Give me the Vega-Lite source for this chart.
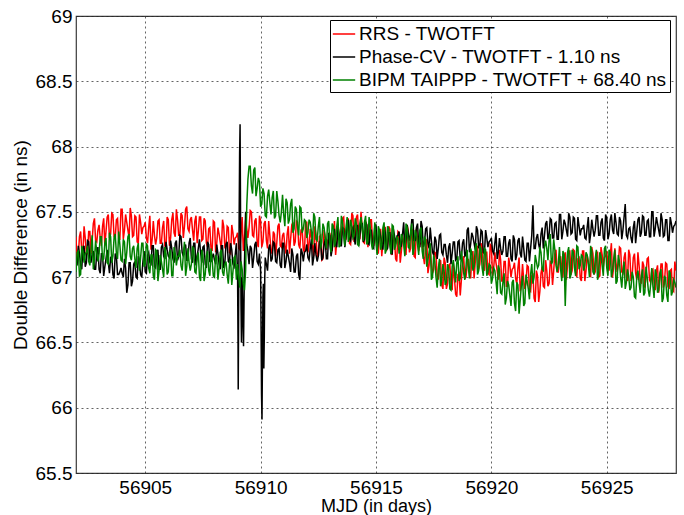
{
  "$schema": "https://vega.github.io/schema/vega-lite/v6.json",
  "autosize": "none",
  "width": 600,
  "height": 457,
  "padding": {"left": 76, "top": 16, "right": 8, "bottom": 42},
  "background": "white",
  "config": {
    "font": "Liberation Sans",
    "view": {"stroke": "#3a3a3a", "strokeWidth": 1.2},
    "axis": {
      "labelFont": "Liberation Sans", "titleFont": "Liberation Sans",
      "labelFontSize": 19, "titleFontSize": 19, "labelColor": "#000", "titleColor": "#000",
      "titleFontWeight": "normal", "domain": false, "ticks": false,
      "grid": true, "gridColor": "#222", "gridDash": [2, 3], "gridOpacity": 0.7, "gridWidth": 1
    }
  },
  "data": {"values": [
    {"t":56902.0,"r":67.31,"p":67.11,"b":67.04},{"t":56902.1,"r":67.17,"p":67.24,"b":67.20},{"t":56902.2,"r":67.35,"p":67.09,"b":67.02},{"t":56902.3,"r":67.18,"p":67.22,"b":67.20},{"t":56902.4,"r":67.30,"p":67.08,"b":67.18},
    {"t":56902.5,"r":67.18,"p":67.28,"b":67.24},{"t":56902.6,"r":67.35,"p":67.14,"b":67.09},{"t":56902.7,"r":67.28,"p":67.18,"b":67.32},{"t":56902.8,"r":67.45,"p":67.06,"b":67.14},{"t":56902.9,"r":67.27,"p":67.19,"b":67.19},
    {"t":56903.0,"r":67.40,"p":67.06,"b":67.18},{"t":56903.1,"r":67.24,"p":67.18,"b":67.31},{"t":56903.2,"r":67.45,"p":67.01,"b":67.14},{"t":56903.3,"r":67.35,"p":67.14,"b":67.30},{"t":56903.4,"r":67.48,"p":67.11,"b":67.10},
    {"t":56903.5,"r":67.33,"p":67.15,"b":67.31},{"t":56903.6,"r":67.48,"p":67.02,"b":67.16},{"t":56903.7,"r":67.30,"p":67.18,"b":67.33},{"t":56903.8,"r":67.45,"p":67.02,"b":67.14},{"t":56903.9,"r":67.29,"p":67.04,"b":67.25},
    {"t":56904.0,"r":67.52,"p":67.03,"b":67.12},{"t":56904.1,"r":67.36,"p":67.14,"b":67.27},{"t":56904.2,"r":67.42,"p":66.88,"b":67.19},{"t":56904.3,"r":67.30,"p":67.11,"b":67.33},{"t":56904.4,"r":67.47,"p":66.93,"b":67.13},
    {"t":56904.5,"r":67.32,"p":67.10,"b":67.24},{"t":56904.6,"r":67.46,"p":67.00,"b":67.07},{"t":56904.7,"r":67.26,"p":67.16,"b":67.26},{"t":56904.8,"r":67.42,"p":67.02,"b":67.15},{"t":56904.9,"r":67.38,"p":67.12,"b":67.26},
    {"t":56905.0,"r":67.42,"p":67.04,"b":67.10},{"t":56905.1,"r":67.26,"p":67.17,"b":67.24},{"t":56905.2,"r":67.47,"p":67.11,"b":67.03},{"t":56905.3,"r":67.29,"p":67.24,"b":67.17},{"t":56905.4,"r":67.32,"p":67.08,"b":66.98},
    {"t":56905.5,"r":67.30,"p":67.18,"b":67.20},{"t":56905.6,"r":67.44,"p":67.06,"b":67.05},{"t":56905.7,"r":67.26,"p":67.23,"b":67.12},{"t":56905.8,"r":67.43,"p":67.16,"b":67.00},{"t":56905.9,"r":67.22,"p":67.27,"b":67.18},
    {"t":56906.0,"r":67.44,"p":67.16,"b":67.04},{"t":56906.1,"r":67.30,"p":67.28,"b":67.20},{"t":56906.2,"r":67.49,"p":67.14,"b":67.01},{"t":56906.3,"r":67.31,"p":67.26,"b":67.18},{"t":56906.4,"r":67.44,"p":67.13,"b":67.16},
    {"t":56906.5,"r":67.32,"p":67.32,"b":67.21},{"t":56906.6,"r":67.47,"p":67.19,"b":67.05},{"t":56906.7,"r":67.39,"p":67.23,"b":67.27},{"t":56906.8,"r":67.54,"p":67.13,"b":67.08},{"t":56906.9,"r":67.35,"p":67.26,"b":67.11},
    {"t":56907.0,"r":67.46,"p":67.14,"b":67.10},{"t":56907.1,"r":67.28,"p":67.26,"b":67.22},{"t":56907.2,"r":67.47,"p":67.09,"b":67.03},{"t":56907.3,"r":67.35,"p":67.22,"b":67.19},{"t":56907.4,"r":67.46,"p":67.19,"b":66.97},
    {"t":56907.5,"r":67.29,"p":67.23,"b":67.17},{"t":56907.6,"r":67.43,"p":67.10,"b":67.02},{"t":56907.7,"r":67.23,"p":67.27,"b":67.20},{"t":56907.8,"r":67.38,"p":67.12,"b":67.01},{"t":56907.9,"r":67.20,"p":67.15,"b":67.13},
    {"t":56908.0,"r":67.42,"p":67.13,"b":67.00},{"t":56908.1,"r":67.26,"p":67.25,"b":67.15},{"t":56908.2,"r":67.33,"p":67.10,"b":67.07},{"t":56908.3,"r":67.21,"p":67.24,"b":67.21},{"t":56908.4,"r":67.39,"p":67.07,"b":67.01},
    {"t":56908.5,"r":67.24,"p":67.25,"b":67.12},{"t":56908.6,"r":67.38,"p":67.12,"b":66.95},{"t":56908.7,"r":67.18,"p":67.26,"b":67.14},{"t":56908.8,"r":67.34,"p":67.10,"b":67.04},{"t":56908.9,"r":67.30,"p":67.17,"b":67.16},
    {"t":56909.0,"r":67.34,"p":67.05,"b":67.10},
    {"t":56909.02,"p":66.55},{"t":56909.03,"p":66.14},{"t":56909.05,"p":66.85},{"t":56909.07,"p":67.45},{"t":56909.09,"p":67.95},
    {"t":56909.1,"r":67.21,"p":68.05,"b":66.92},
    {"t":56909.11,"p":68.17},{"t":56909.13,"p":67.50},{"t":56909.15,"p":66.80},{"t":56909.17,"p":66.50},{"t":56909.19,"p":66.95},
    {"t":56909.2,"r":67.46,"p":67.00,"b":67.06},
    {"t":56909.23,"p":66.70},{"t":56909.26,"p":66.47},{"t":56909.28,"p":66.80},
    {"t":56909.3,"r":67.30,"p":67.10,"b":66.90},
    {"t":56909.35,"p":67.50},
    {"t":56909.4,"r":67.37,"p":67.25,"b":67.55},
    {"t":56909.5,"r":67.38,"p":67.10,"b":67.85},{"t":56909.6,"r":67.50,"p":67.22,"b":67.70},{"t":56909.7,"r":67.31,"p":67.15,"b":67.82},{"t":56909.8,"r":67.45,"p":67.27,"b":67.62},{"t":56909.9,"r":67.23,"p":67.10,"b":67.76},
    {"t":56910.0,"r":67.43,"p":67.05,"b":67.54},
    {"t":56910.02,"p":66.60},{"t":56910.04,"p":66.10},{"t":56910.06,"p":65.91},{"t":56910.08,"p":66.40},
    {"t":56910.1,"r":67.27,"p":66.85,"b":67.68},
    {"t":56910.12,"p":66.95},{"t":56910.14,"p":66.30},{"t":56910.16,"p":66.55},{"t":56910.18,"p":67.00},
    {"t":56910.2,"r":67.43,"p":67.15,"b":67.47},{"t":56910.3,"r":67.22,"p":67.05,"b":67.62},{"t":56910.4,"r":67.32,"p":67.25,"b":67.57},
    {"t":56910.5,"r":67.18,"p":67.14,"b":67.61},{"t":56910.6,"r":67.33,"p":67.26,"b":67.45},{"t":56910.7,"r":67.26,"p":67.11,"b":67.66},{"t":56910.8,"r":67.41,"p":67.22,"b":67.47},{"t":56910.9,"r":67.23,"p":67.07,"b":67.50},
    {"t":56911.0,"r":67.34,"p":67.26,"b":67.48},{"t":56911.1,"r":67.18,"p":67.12,"b":67.60},{"t":56911.2,"r":67.39,"p":67.16,"b":67.41},{"t":56911.3,"r":67.29,"p":67.04,"b":67.56},{"t":56911.4,"r":67.42,"p":67.17,"b":67.34},
    {"t":56911.5,"r":67.27,"p":67.04,"b":67.54},{"t":56911.6,"r":67.42,"p":67.18,"b":67.38},{"t":56911.7,"r":67.22,"p":66.98,"b":67.54},{"t":56911.8,"r":67.37,"p":67.19,"b":67.34},{"t":56911.9,"r":67.19,"p":67.19,"b":67.44},
    {"t":56912.0,"r":67.42,"p":67.25,"b":67.30},{"t":56912.1,"r":67.25,"p":67.13,"b":67.44},{"t":56912.2,"r":67.30,"p":67.29,"b":67.35},{"t":56912.3,"r":67.16,"p":67.15,"b":67.49},{"t":56912.4,"r":67.32,"p":67.17,"b":67.29},
    {"t":56912.5,"r":67.16,"p":67.16,"b":67.39},{"t":56912.6,"r":67.32,"p":67.28,"b":67.22},{"t":56912.7,"r":67.14,"p":67.15,"b":67.41},{"t":56912.8,"r":67.30,"p":67.29,"b":67.30},{"t":56912.9,"r":67.28,"p":67.14,"b":67.41},
    {"t":56913.0,"r":67.34,"p":67.32,"b":67.25},{"t":56913.1,"r":67.20,"p":67.21,"b":67.41},{"t":56913.2,"r":67.43,"p":67.37,"b":67.23},{"t":56913.3,"r":67.27,"p":67.23,"b":67.39},{"t":56913.4,"r":67.32,"p":67.33,"b":67.23},
    {"t":56913.5,"r":67.32,"p":67.24,"b":67.47},{"t":56913.6,"r":67.46,"p":67.37,"b":67.32},{"t":56913.7,"r":67.29,"p":67.31,"b":67.38},{"t":56913.8,"r":67.45,"p":67.44,"b":67.27},{"t":56913.9,"r":67.25,"p":67.28,"b":67.44},
    {"t":56914.0,"r":67.47,"p":67.38,"b":67.30},{"t":56914.1,"r":67.32,"p":67.25,"b":67.45},{"t":56914.2,"r":67.48,"p":67.40,"b":67.25},{"t":56914.3,"r":67.29,"p":67.32,"b":67.41},{"t":56914.4,"r":67.39,"p":67.41,"b":67.37},
    {"t":56914.5,"r":67.26,"p":67.29,"b":67.42},{"t":56914.6,"r":67.40,"p":67.40,"b":67.25},{"t":56914.7,"r":67.31,"p":67.25,"b":67.46},{"t":56914.8,"r":67.44,"p":67.36,"b":67.26},{"t":56914.9,"r":67.24,"p":67.22,"b":67.29},
    {"t":56915.0,"r":67.34,"p":67.40,"b":67.26},{"t":56915.1,"r":67.18,"p":67.27,"b":67.39},{"t":56915.2,"r":67.37,"p":67.31,"b":67.21},{"t":56915.3,"r":67.27,"p":67.21,"b":67.38},{"t":56915.4,"r":67.38,"p":67.34,"b":67.18},
    {"t":56915.5,"r":67.23,"p":67.22,"b":67.39},{"t":56915.6,"r":67.37,"p":67.34,"b":67.24},{"t":56915.7,"r":67.17,"p":67.18,"b":67.40},{"t":56915.8,"r":67.30,"p":67.32,"b":67.21},{"t":56915.9,"r":67.12,"p":67.31,"b":67.31},
    {"t":56916.0,"r":67.34,"p":67.35,"b":67.18},{"t":56916.1,"r":67.20,"p":67.24,"b":67.33},{"t":56916.2,"r":67.27,"p":67.42,"b":67.25},{"t":56916.3,"r":67.17,"p":67.29,"b":67.41},{"t":56916.4,"r":67.35,"p":67.33,"b":67.23},
    {"t":56916.5,"r":67.22,"p":67.33,"b":67.34},{"t":56916.6,"r":67.35,"p":67.44,"b":67.17},{"t":56916.7,"r":67.15,"p":67.28,"b":67.36},{"t":56916.8,"r":67.29,"p":67.41,"b":67.25},{"t":56916.9,"r":67.25,"p":67.23,"b":67.36},
    {"t":56917.0,"r":67.28,"p":67.39,"b":67.20},{"t":56917.1,"r":67.10,"p":67.26,"b":67.31},{"t":56917.2,"r":67.29,"p":67.38,"b":67.08},{"t":56917.3,"r":67.09,"p":67.22,"b":67.19},{"t":56917.4,"r":67.10,"p":67.28,"b":66.98},
    {"t":56917.5,"r":67.06,"p":67.17,"b":67.17},{"t":56917.6,"r":67.18,"p":67.28,"b":67.00},{"t":56917.7,"r":66.99,"p":67.22,"b":67.06},{"t":56917.8,"r":67.13,"p":67.33,"b":66.93},{"t":56917.9,"r":66.91,"p":67.17,"b":67.10},
    {"t":56918.0,"r":67.11,"p":67.25,"b":66.94},{"t":56918.1,"r":66.95,"p":67.11,"b":67.10},{"t":56918.2,"r":67.10,"p":67.26,"b":66.91},{"t":56918.3,"r":66.90,"p":67.18,"b":67.08},{"t":56918.4,"r":66.99,"p":67.27,"b":67.05},
    {"t":56918.5,"r":66.85,"p":67.14,"b":67.11},{"t":56918.6,"r":67.03,"p":67.28,"b":66.97},{"t":56918.7,"r":66.98,"p":67.15,"b":67.20},{"t":56918.8,"r":67.16,"p":67.29,"b":67.03},{"t":56918.9,"r":67.00,"p":67.17,"b":67.08},
    {"t":56919.0,"r":67.14,"p":67.38,"b":67.08},{"t":56919.1,"r":66.99,"p":67.25,"b":67.22},{"t":56919.2,"r":67.20,"p":67.31,"b":67.05},{"t":56919.3,"r":67.11,"p":67.21,"b":67.22},{"t":56919.4,"r":67.24,"p":67.36,"b":67.02},
    {"t":56919.5,"r":67.10,"p":67.24,"b":67.24},{"t":56919.6,"r":67.24,"p":67.35,"b":67.07},{"t":56919.7,"r":67.05,"p":67.18,"b":67.22},{"t":56919.8,"r":67.19,"p":67.30,"b":67.01},{"t":56919.9,"r":67.02,"p":67.27,"b":67.10},
    {"t":56920.0,"r":67.24,"p":67.30,"b":66.95},{"t":56920.1,"r":67.07,"p":67.18,"b":67.07},{"t":56920.2,"r":67.11,"p":67.34,"b":66.97},{"t":56920.3,"r":66.98,"p":67.19,"b":67.09},{"t":56920.4,"r":67.13,"p":67.22,"b":66.88},
    {"t":56920.5,"r":66.97,"p":67.20,"b":66.96},{"t":56920.6,"r":67.12,"p":67.31,"b":66.79},{"t":56920.7,"r":66.93,"p":67.16,"b":66.97},{"t":56920.8,"r":67.09,"p":67.29,"b":66.86},{"t":56920.9,"r":67.06,"p":67.12,"b":66.96},
    {"t":56921.0,"r":67.11,"p":67.29,"b":66.80},{"t":56921.1,"r":66.95,"p":67.17,"b":66.96},{"t":56921.2,"r":67.15,"p":67.30,"b":66.72},{"t":56921.3,"r":66.96,"p":67.15,"b":66.94},{"t":56921.4,"r":66.98,"p":67.22,"b":66.78},
    {"t":56921.5,"r":66.96,"p":67.12,"b":67.02},{"t":56921.6,"r":67.08,"p":67.26,"b":66.91},{"t":56921.7,"r":66.89,"p":67.22,"b":67.02},{"t":56921.8,"r":67.03,"p":67.55,"b":66.95},{"t":56921.9,"r":66.81,"p":67.22,"b":67.17},
    {"t":56922.0,"r":67.01,"p":67.33,"b":67.07},{"t":56922.1,"r":66.89,"p":67.21,"b":67.23},{"t":56922.2,"r":67.08,"p":67.38,"b":67.06},{"t":56922.3,"r":66.92,"p":67.32,"b":67.23},{"t":56922.4,"r":67.05,"p":67.43,"b":67.22},
    {"t":56922.5,"r":66.95,"p":67.32,"b":67.28},{"t":56922.6,"r":67.11,"p":67.44,"b":67.10},{"t":56922.7,"r":67.05,"p":67.30,"b":67.29},{"t":56922.8,"r":67.21,"p":67.42,"b":67.09},{"t":56922.9,"r":67.04,"p":67.29,"b":67.10},
    {"t":56923.0,"r":67.16,"p":67.48,"b":67.06},{"t":56923.1,"r":67.00,"p":67.35,"b":67.20},{"t":56923.2,"r":67.19,"p":67.41,"b":66.78},{"t":56923.3,"r":67.09,"p":67.31,"b":67.19},{"t":56923.4,"r":67.20,"p":67.46,"b":66.99},
    {"t":56923.5,"r":67.05,"p":67.34,"b":67.21},{"t":56923.6,"r":67.20,"p":67.45,"b":67.07},{"t":56923.7,"r":67.00,"p":67.28,"b":67.24},{"t":56923.8,"r":67.15,"p":67.39,"b":67.06},{"t":56923.9,"r":66.97,"p":67.37,"b":67.17},
    {"t":56924.0,"r":67.20,"p":67.40,"b":67.05},{"t":56924.1,"r":67.05,"p":67.29,"b":67.19},{"t":56924.2,"r":67.12,"p":67.46,"b":67.10},{"t":56924.3,"r":67.00,"p":67.33,"b":67.24},{"t":56924.4,"r":67.18,"p":67.37,"b":67.04},
    {"t":56924.5,"r":67.04,"p":67.36,"b":67.14},{"t":56924.6,"r":67.19,"p":67.47,"b":66.98},{"t":56924.7,"r":67.01,"p":67.32,"b":67.19},{"t":56924.8,"r":67.17,"p":67.45,"b":67.09},{"t":56924.9,"r":67.15,"p":67.28,"b":67.22},
    {"t":56925.0,"r":67.20,"p":67.45,"b":67.07},{"t":56925.1,"r":67.05,"p":67.33,"b":67.21},{"t":56925.2,"r":67.26,"p":67.48,"b":67.00},{"t":56925.3,"r":67.08,"p":67.33,"b":67.14},{"t":56925.4,"r":67.11,"p":67.42,"b":66.95},
    {"t":56925.5,"r":67.10,"p":67.32,"b":67.17},{"t":56925.6,"r":67.22,"p":67.43,"b":67.00},{"t":56925.7,"r":67.03,"p":67.36,"b":67.04},{"t":56925.8,"r":67.19,"p":67.56,"b":66.91},{"t":56925.9,"r":66.97,"p":67.30,"b":67.06},
    {"t":56926.0,"r":67.17,"p":67.38,"b":66.90},{"t":56926.1,"r":67.01,"p":67.26,"b":67.04},{"t":56926.2,"r":67.18,"p":67.43,"b":66.85},{"t":56926.3,"r":66.98,"p":67.35,"b":67.00},{"t":56926.4,"r":67.09,"p":67.46,"b":66.96},
    {"t":56926.5,"r":66.95,"p":67.34,"b":67.01},{"t":56926.6,"r":67.09,"p":67.46,"b":66.86},{"t":56926.7,"r":67.01,"p":67.32,"b":67.08},{"t":56926.8,"r":67.15,"p":67.44,"b":66.90},{"t":56926.9,"r":66.96,"p":67.31,"b":66.94},
    {"t":56927.0,"r":67.06,"p":67.50,"b":66.93},{"t":56927.1,"r":66.90,"p":67.37,"b":67.06},{"t":56927.2,"r":67.09,"p":67.41,"b":66.88},{"t":56927.3,"r":66.99,"p":67.31,"b":67.03},{"t":56927.4,"r":67.10,"p":67.44,"b":66.81},
    {"t":56927.5,"r":66.95,"p":67.32,"b":67.01},{"t":56927.6,"r":67.10,"p":67.44,"b":66.86},{"t":56927.7,"r":66.91,"p":67.28,"b":67.05},{"t":56927.8,"r":67.06,"p":67.41,"b":66.86},{"t":56927.9,"r":66.89,"p":67.39,"b":66.98},
    {"t":56928.0,"r":67.05,"p":67.43,"b":66.92},
    {"t":56902.05,"r":67.11,"p":67.10,"b":67.19},{"t":56902.15,"r":67.31,"p":67.18,"b":67.01},{"t":56902.25,"r":67.20,"p":67.06,"b":67.24},{"t":56902.35,"r":67.39,"p":67.24,"b":67.11},{"t":56902.45,"r":67.18,"p":67.11,"b":67.19},
    {"t":56902.55,"r":67.35,"p":67.27,"b":67.12},{"t":56902.65,"r":67.18,"p":67.11,"b":67.21},{"t":56902.75,"r":67.41,"p":67.20,"b":67.06},{"t":56902.85,"r":67.28,"p":67.06,"b":67.28},{"t":56902.95,"r":67.36,"p":67.23,"b":67.12},
    {"t":56903.05,"r":67.30,"p":67.03,"b":67.31},{"t":56903.15,"r":67.39,"p":67.18,"b":67.13},{"t":56903.25,"r":67.24,"p":67.08,"b":67.26},{"t":56903.35,"r":67.46,"p":67.21,"b":67.11},{"t":56903.45,"r":67.30,"p":67.03,"b":67.34},
    {"t":56903.55,"r":67.49,"p":67.16,"b":67.11},{"t":56903.65,"r":67.31,"p":66.99,"b":67.30},{"t":56903.75,"r":67.44,"p":67.16,"b":67.18},{"t":56903.85,"r":67.29,"p":67.02,"b":67.35},{"t":56903.95,"r":67.52,"p":67.07,"b":67.13},
    {"t":56904.05,"r":67.29,"p":67.00,"b":67.29},{"t":56904.15,"r":67.48,"p":67.07,"b":67.10},{"t":56904.25,"r":67.36,"p":66.94,"b":67.31},{"t":56904.35,"r":67.53,"p":67.11,"b":67.16},{"t":56904.45,"r":67.31,"p":66.97,"b":67.22},
    {"t":56904.55,"r":67.47,"p":67.12,"b":67.14},{"t":56904.65,"r":67.27,"p":66.99,"b":67.22},{"t":56904.75,"r":67.48,"p":67.11,"b":67.05},{"t":56904.85,"r":67.33,"p":67.00,"b":67.26},{"t":56904.95,"r":67.39,"p":67.20,"b":67.08},
    {"t":56905.05,"r":67.30,"p":67.03,"b":67.26},{"t":56905.15,"r":67.38,"p":67.19,"b":67.07},{"t":56905.25,"r":67.21,"p":67.10,"b":67.17},{"t":56905.35,"r":67.43,"p":67.24,"b":67.01},{"t":56905.45,"r":67.25,"p":67.07,"b":67.21},
    {"t":56905.55,"r":67.43,"p":67.21,"b":66.97},{"t":56905.65,"r":67.26,"p":67.06,"b":67.17},{"t":56905.75,"r":67.38,"p":67.25,"b":67.06},{"t":56905.85,"r":67.24,"p":67.14,"b":67.23},{"t":56905.95,"r":67.46,"p":67.21,"b":67.02},
    {"t":56906.05,"r":67.24,"p":67.15,"b":67.19},{"t":56906.15,"r":67.44,"p":67.22,"b":67.01},{"t":56906.25,"r":67.34,"p":67.11,"b":67.23},{"t":56906.35,"r":67.52,"p":67.28,"b":67.09},{"t":56906.45,"r":67.32,"p":67.16,"b":67.16},
    {"t":56906.55,"r":67.49,"p":67.31,"b":67.09},{"t":56906.65,"r":67.30,"p":67.16,"b":67.17},{"t":56906.75,"r":67.52,"p":67.25,"b":67.01},{"t":56906.85,"r":67.37,"p":67.13,"b":67.22},{"t":56906.95,"r":67.44,"p":67.30,"b":67.05},
    {"t":56907.05,"r":67.36,"p":67.11,"b":67.23},{"t":56907.15,"r":67.43,"p":67.26,"b":67.04},{"t":56907.25,"r":67.26,"p":67.16,"b":67.15},{"t":56907.35,"r":67.46,"p":67.29,"b":67.00},{"t":56907.45,"r":67.28,"p":67.11,"b":67.21},
    {"t":56907.55,"r":67.45,"p":67.24,"b":66.97},{"t":56907.65,"r":67.26,"p":67.07,"b":67.16},{"t":56907.75,"r":67.37,"p":67.25,"b":67.05},{"t":56907.85,"r":67.22,"p":67.12,"b":67.22},{"t":56907.95,"r":67.43,"p":67.18,"b":67.01},
    {"t":56908.05,"r":67.19,"p":67.10,"b":67.17},{"t":56908.15,"r":67.38,"p":67.18,"b":66.98},{"t":56908.25,"r":67.27,"p":67.06,"b":67.19},{"t":56908.35,"r":67.44,"p":67.24,"b":67.04},{"t":56908.45,"r":67.23,"p":67.11,"b":67.10},
    {"t":56908.55,"r":67.39,"p":67.27,"b":67.02},{"t":56908.65,"r":67.19,"p":67.11,"b":67.10},{"t":56908.75,"r":67.40,"p":67.21,"b":66.94},{"t":56908.85,"r":67.25,"p":67.08,"b":67.15},{"t":56908.95,"r":67.31,"p":67.26,"b":66.98},
    {"t":56909.05,"r":67.22,"b":67.00},{"t":56909.15,"r":67.33,"b":67.12},{"t":56909.25,"r":67.20,"b":66.95},{"t":56909.35,"r":67.44,"b":67.05},{"t":56909.45,"r":67.30,"p":67.20,"b":67.75},
    {"t":56909.55,"r":67.51,"p":67.24,"b":67.85},{"t":56909.65,"r":67.32,"p":67.07,"b":67.64},{"t":56909.75,"r":67.43,"p":67.25,"b":67.84},{"t":56909.85,"r":67.26,"p":67.12,"b":67.68},{"t":56909.95,"r":67.47,"p":67.18,"b":67.73},
    {"t":56910.05,"r":67.23,"b":67.56},{"t":56910.15,"r":67.41,"b":67.64},{"t":56910.25,"r":67.28,"p":67.10,"b":67.46},{"t":56910.35,"r":67.43,"p":67.22,"b":67.67},{"t":56910.45,"r":67.20,"p":67.12,"b":67.48},
    {"t":56910.55,"r":67.35,"p":67.27,"b":67.66},{"t":56910.65,"r":67.16,"p":67.12,"b":67.47},{"t":56910.75,"r":67.39,"p":67.21,"b":67.58},{"t":56910.85,"r":67.24,"p":67.09,"b":67.42},{"t":56910.95,"r":67.32,"p":67.26,"b":67.63},
    {"t":56911.05,"r":67.24,"p":67.07,"b":67.39},{"t":56911.15,"r":67.33,"p":67.21,"b":67.57},{"t":56911.25,"r":67.18,"p":67.11,"b":67.44},{"t":56911.35,"r":67.40,"p":67.22,"b":67.60},{"t":56911.45,"r":67.24,"p":67.04,"b":67.37},
    {"t":56911.55,"r":67.43,"p":67.16,"b":67.52},{"t":56911.65,"r":67.25,"p":67.02,"b":67.32},{"t":56911.75,"r":67.36,"p":67.22,"b":67.53},{"t":56911.85,"r":67.21,"p":67.12,"b":67.37},{"t":56911.95,"r":67.42,"p":67.20,"b":67.43},
    {"t":56912.05,"r":67.19,"p":67.15,"b":67.34},{"t":56912.15,"r":67.37,"p":67.22,"b":67.42},{"t":56912.25,"r":67.24,"p":67.09,"b":67.25},{"t":56912.35,"r":67.39,"p":67.26,"b":67.46},{"t":56912.45,"r":67.16,"p":67.12,"b":67.28},
    {"t":56912.55,"r":67.31,"p":67.27,"b":67.46},{"t":56912.65,"r":67.13,"p":67.13,"b":67.27},{"t":56912.75,"r":67.36,"p":67.25,"b":67.38},{"t":56912.85,"r":67.21,"p":67.14,"b":67.22},{"t":56912.95,"r":67.29,"p":67.34,"b":67.43},
    {"t":56913.05,"r":67.22,"p":67.16,"b":67.19},{"t":56913.15,"r":67.32,"p":67.32,"b":67.39},{"t":56913.25,"r":67.17,"p":67.25,"b":67.28},{"t":56913.35,"r":67.41,"p":67.39,"b":67.46},{"t":56913.45,"r":67.25,"p":67.24,"b":67.25},
    {"t":56913.55,"r":67.45,"p":67.38,"b":67.42},{"t":56913.65,"r":67.28,"p":67.23,"b":67.24},{"t":56913.75,"r":67.41,"p":67.41,"b":67.46},{"t":56913.85,"r":67.26,"p":67.30,"b":67.32},{"t":56913.95,"r":67.49,"p":67.36,"b":67.39},
    {"t":56914.05,"r":67.27,"p":67.30,"b":67.32},{"t":56914.15,"r":67.46,"p":67.37,"b":67.41},{"t":56914.25,"r":67.33,"p":67.24,"b":67.24},{"t":56914.35,"r":67.50,"p":67.41,"b":67.46},{"t":56914.45,"r":67.27,"p":67.27,"b":67.28},
    {"t":56914.55,"r":67.43,"p":67.42,"b":67.47},{"t":56914.65,"r":67.23,"p":67.26,"b":67.27},{"t":56914.75,"r":67.44,"p":67.36,"b":67.38},{"t":56914.85,"r":67.27,"p":67.23,"b":67.21},{"t":56914.95,"r":67.33,"p":67.40,"b":67.42},
    {"t":56915.05,"r":67.24,"p":67.21,"b":67.17},{"t":56915.15,"r":67.33,"p":67.36,"b":67.36},{"t":56915.25,"r":67.16,"p":67.26,"b":67.25},{"t":56915.35,"r":67.38,"p":67.39,"b":67.42},{"t":56915.45,"r":67.20,"p":67.21,"b":67.21},
    {"t":56915.55,"r":67.39,"p":67.34,"b":67.37},{"t":56915.65,"r":67.20,"p":67.18,"b":67.18},{"t":56915.75,"r":67.31,"p":67.37,"b":67.39},{"t":56915.85,"r":67.14,"p":67.25,"b":67.24},{"t":56915.95,"r":67.35,"p":67.32,"b":67.30},
    {"t":56916.05,"r":67.11,"p":67.25,"b":67.22},{"t":56916.15,"r":67.32,"p":67.33,"b":67.31},{"t":56916.25,"r":67.21,"p":67.22,"b":67.16},{"t":56916.35,"r":67.40,"p":67.40,"b":67.38},{"t":56916.45,"r":67.19,"p":67.28,"b":67.22},
    {"t":56916.55,"r":67.37,"p":67.44,"b":67.41},{"t":56916.65,"r":67.16,"p":67.28,"b":67.22},{"t":56916.75,"r":67.37,"p":67.38,"b":67.33},{"t":56916.85,"r":67.20,"p":67.25,"b":67.17},{"t":56916.95,"r":67.26,"p":67.43,"b":67.38},
    {"t":56917.05,"r":67.16,"p":67.23,"b":67.14},{"t":56917.15,"r":67.22,"p":67.37,"b":67.29},{"t":56917.25,"r":67.03,"p":67.26,"b":67.13},{"t":56917.35,"r":67.23,"p":67.38,"b":67.26},{"t":56917.45,"r":67.03,"p":67.19,"b":67.00},
    {"t":56917.55,"r":67.19,"p":67.31,"b":67.12},{"t":56917.65,"r":67.00,"p":67.14,"b":66.92},{"t":56917.75,"r":67.11,"p":67.32,"b":67.14},{"t":56917.85,"r":66.94,"p":67.19,"b":66.98},{"t":56917.95,"r":67.15,"p":67.25,"b":67.05},
    {"t":56918.05,"r":66.91,"p":67.17,"b":66.96},{"t":56918.15,"r":67.09,"p":67.23,"b":67.06},{"t":56918.25,"r":66.95,"p":67.10,"b":66.90},{"t":56918.35,"r":67.11,"p":67.27,"b":67.13},{"t":56918.45,"r":66.87,"p":67.13,"b":66.96},
    {"t":56918.55,"r":67.02,"p":67.27,"b":67.16},{"t":56918.65,"r":66.86,"p":67.14,"b":66.99},{"t":56918.75,"r":67.11,"p":67.26,"b":67.12},{"t":56918.85,"r":66.99,"p":67.16,"b":66.98},{"t":56918.95,"r":67.09,"p":67.36,"b":67.21},
    {"t":56919.05,"r":67.04,"p":67.19,"b":66.99},{"t":56919.15,"r":67.14,"p":67.34,"b":67.19},{"t":56919.25,"r":66.99,"p":67.26,"b":67.08},{"t":56919.35,"r":67.22,"p":67.39,"b":67.26},{"t":56919.45,"r":67.06,"p":67.23,"b":67.05},
    {"t":56919.55,"r":67.26,"p":67.36,"b":67.22},{"t":56919.65,"r":67.07,"p":67.19,"b":67.01},{"t":56919.75,"r":67.19,"p":67.36,"b":67.21},{"t":56919.85,"r":67.03,"p":67.23,"b":67.04},{"t":56919.95,"r":67.25,"p":67.28,"b":67.09},
    {"t":56920.05,"r":67.01,"p":67.20,"b":66.99},{"t":56920.15,"r":67.19,"p":67.26,"b":67.05},{"t":56920.25,"r":67.05,"p":67.14,"b":66.87},{"t":56920.35,"r":67.21,"p":67.30,"b":67.06},{"t":56920.45,"r":66.97,"p":67.17,"b":66.87},
    {"t":56920.55,"r":67.12,"p":67.31,"b":67.03},{"t":56920.65,"r":66.93,"p":67.16,"b":66.84},{"t":56920.75,"r":67.15,"p":67.26,"b":66.94},{"t":56920.85,"r":67.00,"p":67.14,"b":66.78},{"t":56920.95,"r":67.07,"p":67.32,"b":66.98},
    {"t":56921.05,"r":66.99,"p":67.13,"b":66.74},{"t":56921.15,"r":67.07,"p":67.28,"b":66.94},{"t":56921.25,"r":66.89,"p":67.18,"b":66.83},{"t":56921.35,"r":67.10,"p":67.31,"b":67.01},{"t":56921.45,"r":66.91,"p":67.13,"b":66.80},
    {"t":56921.55,"r":67.09,"p":67.26,"b":66.97},{"t":56921.65,"r":66.90,"p":67.12,"b":66.83},{"t":56921.75,"r":67.01,"p":67.32,"b":67.10},{"t":56921.85,"r":66.84,"p":67.22,"b":67.00},{"t":56921.95,"r":67.05,"p":67.30,"b":67.12},
    {"t":56922.05,"r":66.81,"p":67.25,"b":67.09},{"t":56922.15,"r":67.03,"p":67.33,"b":67.19},{"t":56922.25,"r":66.93,"p":67.22,"b":67.05},{"t":56922.35,"r":67.13,"p":67.41,"b":67.28},{"t":56922.45,"r":66.93,"p":67.29,"b":67.13},
    {"t":56922.55,"r":67.12,"p":67.45,"b":67.33},{"t":56922.65,"r":66.94,"p":67.30,"b":67.12},{"t":56922.75,"r":67.18,"p":67.41,"b":67.21},{"t":56922.85,"r":67.04,"p":67.29,"b":67.04},{"t":56922.95,"r":67.13,"p":67.48,"b":67.23},
    {"t":56923.05,"r":67.06,"p":67.29,"b":66.97},{"t":56923.15,"r":67.15,"p":67.44,"b":67.17},{"t":56923.25,"r":66.98,"p":67.36,"b":67.06},{"t":56923.35,"r":67.20,"p":67.49,"b":67.23},{"t":56923.45,"r":67.02,"p":67.33,"b":67.02},
    {"t":56923.55,"r":67.21,"p":67.46,"b":67.19},{"t":56923.65,"r":67.03,"p":67.29,"b":67.01},{"t":56923.75,"r":67.14,"p":67.46,"b":67.23},{"t":56923.85,"r":66.99,"p":67.32,"b":67.09},{"t":56923.95,"r":67.20,"p":67.37,"b":67.16},
    {"t":56924.05,"r":66.97,"p":67.30,"b":67.09},{"t":56924.15,"r":67.17,"p":67.38,"b":67.17},{"t":56924.25,"r":67.06,"p":67.26,"b":67.00},{"t":56924.35,"r":67.23,"p":67.44,"b":67.20},{"t":56924.45,"r":67.02,"p":67.31,"b":67.02},
    {"t":56924.55,"r":67.19,"p":67.47,"b":67.21},{"t":56924.65,"r":67.00,"p":67.32,"b":67.03},{"t":56924.75,"r":67.23,"p":67.42,"b":67.16},{"t":56924.85,"r":67.08,"p":67.30,"b":67.01},{"t":56924.95,"r":67.16,"p":67.48,"b":67.24},
    {"t":56925.05,"r":67.08,"p":67.29,"b":67.01},{"t":56925.15,"r":67.17,"p":67.44,"b":67.19},{"t":56925.25,"r":67.00,"p":67.36,"b":67.05},{"t":56925.35,"r":67.22,"p":67.49,"b":67.21},{"t":56925.45,"r":67.04,"p":67.33,"b":66.97},
    {"t":56925.55,"r":67.23,"p":67.46,"b":67.12},{"t":56925.65,"r":67.04,"p":67.29,"b":66.92},{"t":56925.75,"r":67.15,"p":67.46,"b":67.12},{"t":56925.85,"r":67.00,"p":67.32,"b":66.96},{"t":56925.95,"r":67.21,"p":67.37,"b":67.01},
    {"t":56926.05,"r":66.97,"p":67.30,"b":66.92},{"t":56926.15,"r":67.15,"p":67.38,"b":67.00},{"t":56926.25,"r":67.03,"p":67.26,"b":66.84},{"t":56926.35,"r":67.19,"p":67.44,"b":67.05},{"t":56926.45,"r":66.97,"p":67.31,"b":66.88},
    {"t":56926.55,"r":67.12,"p":67.47,"b":67.06},{"t":56926.65,"r":66.92,"p":67.32,"b":66.88},{"t":56926.75,"r":67.14,"p":67.43,"b":67.00},{"t":56926.85,"r":66.98,"p":67.31,"b":66.85},{"t":56926.95,"r":67.05,"p":67.50,"b":67.07},
    {"t":56927.05,"r":66.96,"p":67.31,"b":66.84},{"t":56927.15,"r":67.05,"p":67.46,"b":67.02},{"t":56927.25,"r":66.88,"p":67.36,"b":66.90},{"t":56927.35,"r":67.10,"p":67.49,"b":67.06},{"t":56927.45,"r":66.92,"p":67.31,"b":66.84},
    {"t":56927.55,"r":67.11,"p":67.44,"b":66.99},{"t":56927.65,"r":66.93,"p":67.28,"b":66.81},{"t":56927.75,"r":67.05,"p":67.46,"b":67.03},{"t":56927.85,"r":66.90,"p":67.34,"b":66.89},{"t":56927.95,"r":67.12,"p":67.40,"b":66.96}
  ]},
  "transform": [
    {"fold": ["r", "p", "b"], "as": ["s", "v"]},
    {"filter": "isValid(datum.v)"}
  ],
  "mark": {"type": "line", "strokeWidth": 1.5, "clip": true},
  "encoding": {
    "x": {
      "field": "t", "type": "quantitative",
      "scale": {"domain": [56902, 56928], "nice": false, "zero": false},
      "axis": {"values": [56905, 56910, 56915, 56920, 56925], "format": "d", "title": "MJD (in days)", "labelPadding": 5, "titlePadding": 0, "titleFontSize": 18}
    },
    "y": {
      "field": "v", "type": "quantitative",
      "scale": {"domain": [65.5, 69], "nice": false, "zero": false},
      "axis": {"values": [65.5, 66, 66.5, 67, 67.5, 68, 68.5, 69], "format": "~g", "title": "Double Difference (in ns)", "labelPadding": 4, "titlePadding": 5}
    },
    "color": {
      "field": "s", "type": "nominal",
      "scale": {"domain": ["r", "p", "b"], "range": ["#ff0000", "#000000", "#008000"]},
      "legend": {
        "orient": "none", "legendX": 254, "legendY": 4, "title": null,
        "labelExpr": "datum.label == 'r' ? 'RRS - TWOTFT' : datum.label == 'p' ? 'Phase-CV - TWOTFT - 1.10 ns' : 'BIPM TAIPPP - TWOTFT + 68.40 ns'",
        "symbolType": "stroke", "symbolSize": 500, "symbolStrokeWidth": 1.5,
        "labelFont": "Liberation Sans", "labelFontSize": 19, "labelColor": "#000", "labelLimit": 0, "labelOffset": 3,
        "strokeColor": "#000", "fillColor": "#fff", "padding": 2, "rowPadding": 1
      }
    }
  }
}
